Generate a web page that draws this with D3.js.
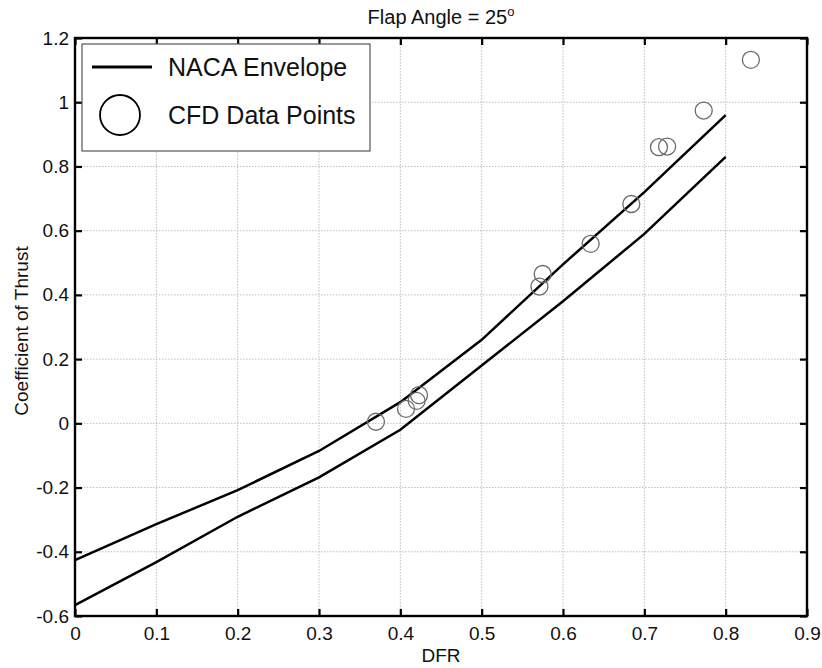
<!DOCTYPE html>
<html>
<head>
<meta charset="utf-8">
<script src="https://cdn.jsdelivr.net/npm/d3@7"></script>
<style>
  body { margin: 0; background: #fff; }
  svg { display: block; font-family: "Liberation Sans", Arial, sans-serif; }
</style>
</head>
<body>
<svg id="chart" width="822" height="668"></svg>
<script>
// NACA envelope, sampled every 0.1 DFR
const dfr = [0, 0.1, 0.2, 0.3, 0.4, 0.5, 0.6, 0.7, 0.8]
const nacaUpper = [-0.426, -0.314, -0.208, -0.086, 0.066, 0.26, 0.495, 0.72, 0.96]
const nacaLower = [-0.566, -0.432, -0.291, -0.168, -0.02, 0.18, 0.38, 0.59, 0.83]

// CFD points
const cfdDFR = [0.370, 0.407, 0.420, 0.423, 0.571, 0.575, 0.634, 0.684, 0.718, 0.728, 0.773, 0.831]
const cfdCT = [0.005, 0.045, 0.070, 0.088, 0.426, 0.465, 0.559, 0.683, 0.860, 0.862, 0.974, 1.132]

const xTicks = [0, 0.1, 0.2, 0.3, 0.4, 0.5, 0.6, 0.7, 0.8, 0.9]
const yTicks = [-0.6, -0.4, -0.2, 0, 0.2, 0.4, 0.6, 0.8, 1, 1.2]

const svg = d3.select("#chart")
const pL = 75, pR = 807, pT = 38, pB = 616

const x = d3.scaleLinear().domain([0, 0.9]).range([pL, pR])
const y = d3.scaleLinear().domain([-0.6, 1.2]).range([pB, pT])
const fmt = (d) => String(+d.toFixed(1))

// grid
const grid = svg.append("g").attr("stroke", "#bdbdbd").attr("stroke-width", 1).attr("stroke-dasharray", "1.5,1.5")
grid.selectAll(".gx").data(xTicks.slice(1, -1)).enter().append("line")
  .attr("x1", (d) => x(d)).attr("x2", (d) => x(d)).attr("y1", pT).attr("y2", pB)
grid.selectAll(".gy").data(yTicks.slice(1, -1)).enter().append("line")
  .attr("y1", (d) => y(d)).attr("y2", (d) => y(d)).attr("x1", pL).attr("x2", pR)

// axes with inward ticks on all sides
const tk = 7
svg.append("g").attr("transform", `translate(0,${pB})`)
  .call(d3.axisBottom(x).tickValues(xTicks).tickSizeInner(-tk).tickSizeOuter(0).tickPadding(11).tickFormat(fmt))
  .call((g) => g.select(".domain").remove())
svg.append("g").attr("transform", `translate(0,${pT})`)
  .call(d3.axisTop(x).tickValues(xTicks).tickSizeInner(-tk).tickSizeOuter(0).tickFormat(""))
  .call((g) => g.select(".domain").remove())
svg.append("g").attr("transform", `translate(${pL},0)`)
  .call(d3.axisLeft(y).tickValues(yTicks).tickSizeInner(-tk).tickSizeOuter(0).tickPadding(6).tickFormat(fmt))
  .call((g) => g.select(".domain").remove())
svg.append("g").attr("transform", `translate(${pR},0)`)
  .call(d3.axisRight(y).tickValues(yTicks).tickSizeInner(-tk).tickSizeOuter(0).tickFormat(""))
  .call((g) => g.select(".domain").remove())
svg.selectAll(".tick line").attr("stroke", "#000").attr("stroke-width", 2.2)
svg.selectAll(".tick text").attr("fill", "#111").attr("font-size", 19).attr("font-family", "Liberation Sans, Arial, sans-serif")

svg.append("rect").attr("x", pL).attr("y", pT).attr("width", pR - pL).attr("height", pB - pT)
  .attr("fill", "none").attr("stroke", "#000").attr("stroke-width", 2.4)

// envelope lines
const line = d3.line().x((d) => x(d[0])).y((d) => y(d[1]))
for (let s of [nacaUpper, nacaLower]) {
  svg.append("path").datum(dfr.map((d, i) => [d, s[i]])).attr("d", line)
    .attr("fill", "none").attr("stroke", "#000").attr("stroke-width", 2.5)
}

// CFD circles
svg.selectAll(".cfd").data(cfdDFR).enter().append("circle")
  .attr("cx", (d) => x(d)).attr("cy", (d, i) => y(cfdCT[i])).attr("r", 8.5)
  .attr("fill", "none").attr("stroke", "#6a6a6a").attr("stroke-width", 1.3)

// legend
const lg = svg.append("g")
lg.append("rect").attr("x", 82).attr("y", 44).attr("width", 288).attr("height", 107)
  .attr("fill", "#fff").attr("stroke", "#555").attr("stroke-width", 1.2)
lg.append("line").attr("x1", 92).attr("x2", 152).attr("y1", 67).attr("y2", 67).attr("stroke", "#000").attr("stroke-width", 2.8)
lg.append("circle").attr("cx", 120).attr("cy", 115).attr("r", 20).attr("fill", "none").attr("stroke", "#000").attr("stroke-width", 1.8)
lg.append("text").attr("x", 168).attr("y", 76).attr("font-size", 25).attr("fill", "#111").text("NACA Envelope")
lg.append("text").attr("x", 168).attr("y", 124).attr("font-size", 25).attr("fill", "#111").text("CFD Data Points")

// titles
const title = svg.append("text").attr("x", (pL + pR) / 2).attr("y", 24).attr("text-anchor", "middle").attr("font-size", 20).attr("fill", "#111")
title.append("tspan").text("Flap Angle = 25")
title.append("tspan").attr("dy", -8).attr("font-size", 13).text("o")

svg.append("text").attr("x", (pL + pR) / 2).attr("y", 662).attr("text-anchor", "middle").attr("font-size", 19).attr("fill", "#111").text("DFR")
svg.append("text").attr("transform", `translate(28,${(pT + pB) / 2 + 4}) rotate(-90)`)
  .attr("text-anchor", "middle").attr("font-size", 19).attr("fill", "#111").text("Coefficient of Thrust")
</script>
</body>
</html>
